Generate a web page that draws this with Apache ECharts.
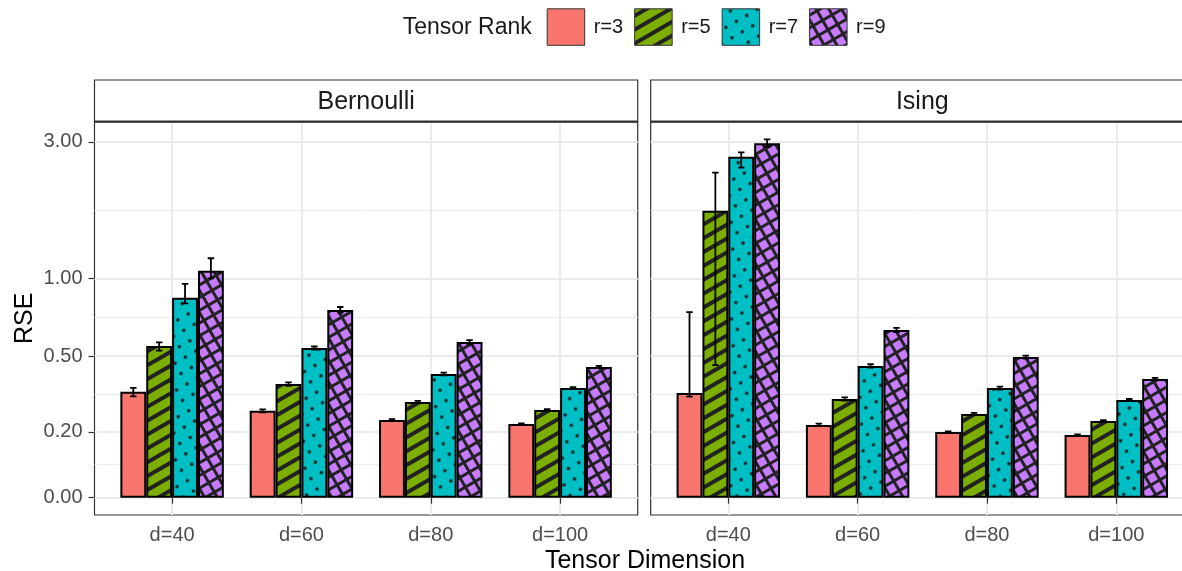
<!DOCTYPE html>
<html><head><meta charset="utf-8">
<script src="https://cdn.jsdelivr.net/npm/echarts@6/dist/echarts.min.js"></script>
<style>html,body{margin:0;padding:0;background:#fff}#chart{width:1182px;height:571px}</style>
</head><body><div id="chart"></div>
<script>
// ---------------- data ----------------
const dims = ['d=40', 'd=60', 'd=80', 'd=100'];
const ranks = ['r=3', 'r=5', 'r=7', 'r=9'];
const facets = ['Bernoulli', 'Ising'];
const yBreaks = [0, 0.2, 0.5, 1, 3];
const yBreakLabels = ['0.00', '0.20', '0.50', '1.00', '3.00'];

const bernR3 = [0.344, 0.272, 0.240, 0.226];
const bernR5 = [0.552, 0.375, 0.305, 0.275];
const bernR7 = [0.849, 0.541, 0.418, 0.359];
const bernR9 = [1.066, 0.764, 0.573, 0.449];
const bernR3Lo = [0.326, 0.267, 0.237, 0.224], bernR3Hi = [0.360, 0.277, 0.243, 0.228];
const bernR5Lo = [0.528, 0.368, 0.301, 0.272], bernR5Hi = [0.571, 0.382, 0.309, 0.278];
const bernR7Lo = [0.809, 0.533, 0.412, 0.355], bernR7Hi = [0.954, 0.549, 0.424, 0.363];
const bernR9Lo = [1.000, 0.746, 0.563, 0.444], bernR9Hi = [1.181, 0.784, 0.583, 0.454];

const isingR3 = [0.339, 0.223, 0.199, 0.189];
const isingR5 = [1.736, 0.316, 0.261, 0.236];
const isingR7 = [2.668, 0.454, 0.359, 0.312];
const isingR9 = [2.966, 0.640, 0.496, 0.396];
const isingR3Lo = [0.325, 0.219, 0.197, 0.187], isingR3Hi = [0.750, 0.227, 0.201, 0.191];
const isingR5Lo = [0.458, 0.310, 0.257, 0.233], isingR5Hi = [2.350, 0.322, 0.265, 0.239];
const isingR7Lo = [2.445, 0.446, 0.353, 0.308], isingR7Hi = [2.762, 0.462, 0.365, 0.316];
const isingR9Lo = [2.887, 0.628, 0.489, 0.391], isingR9Hi = [3.061, 0.652, 0.503, 0.401];

// ---------------- scale (pseudo-log transform) ----------------
const S = 2.7;
const tr = v => Math.asinh(S * v);
const Y_MIN = -0.1356, Y_MAX = 2.9467;
const majorT = yBreaks.map(tr);
const minorT = [];
for (let i = 0; i < majorT.length - 1; i++) minorT.push((majorT[i] + majorT[i + 1]) / 2);
function yLabel(v) {
  let best = 0, bd = Infinity;
  majorT.forEach((t, i) => { const d = Math.abs(t - v); if (d < bd) { bd = d; best = i; } });
  return yBreakLabels[best];
}

const FONT = 'Liberation Sans, Arial, Helvetica, sans-serif';

// ---------------- patterns ----------------
function makeTile(n, draw) {
  const c = document.createElement('canvas'); c.width = n; c.height = n;
  const g = c.getContext('2d'); draw(g, n); return c;
}
const ROT = -Math.PI / 6;
const INK = '#222222';
const fills = [
  '#F8766D',
  { image: makeTile(12, (g, n) => { g.fillStyle = '#7CAE00'; g.fillRect(0, 0, n, n); g.fillStyle = INK; g.fillRect(0, 4, n, 4); }), repeat: 'repeat', rotation: ROT },
  { image: makeTile(12, (g, n) => { g.fillStyle = '#00BFC4'; g.fillRect(0, 0, n, n); g.fillStyle = INK; g.beginPath(); g.arc(6, 6, 1.8, 0, Math.PI * 2); g.fill(); }), repeat: 'repeat', rotation: ROT },
  { image: makeTile(11, (g, n) => { g.fillStyle = '#C77CFF'; g.fillRect(0, 0, n, n); g.fillStyle = INK; g.fillRect(0, 4, n, 3); g.fillRect(4, 0, 3, n); }), repeat: 'repeat', rotation: ROT }
];

const means = [[bernR3, bernR5, bernR7, bernR9], [isingR3, isingR5, isingR7, isingR9]];
const lows = [[bernR3Lo, bernR5Lo, bernR7Lo, bernR9Lo], [isingR3Lo, isingR5Lo, isingR7Lo, isingR9Lo]];
const highs = [[bernR3Hi, bernR5Hi, bernR7Hi, bernR9Hi], [isingR3Hi, isingR5Hi, isingR7Hi, isingR9Hi]];

// ---------------- layout ----------------
const PANEL_W = 543.2, PANEL_TOP = 121.7, PANEL_H = 393.3;
const PANEL_LEFT = [94.5, 650.7];
const STRIP_TOP = 80;

const grids = [], xAxes = [], yAxes = [], series = [], graphics = [];
facets.forEach((f, fi) => {
  grids.push({ left: PANEL_LEFT[fi], top: PANEL_TOP, width: PANEL_W, height: PANEL_H, show: true,
    borderColor: '#333', borderWidth: 1.2, backgroundColor: 'transparent', containLabel: false, outerBoundsMode: 'none' });
  xAxes.push({ type: 'value', gridIndex: fi, min: 0.4, max: 4.6,
    axisLine: { show: false },
    axisTick: { show: true, customValues: [1, 2, 3, 4], length: 6, lineStyle: { color: '#333', width: 1.2 } },
    axisLabel: { show: true, customValues: [1, 2, 3, 4], formatter: v => dims[Math.round(v) - 1], fontSize: 20, color: '#4d4d4d', margin: 10, fontFamily: FONT },
    splitLine: { show: true, lineStyle: { color: '#ebebeb', width: 2 } } });
});
// major y axes
facets.forEach((f, fi) => {
  yAxes.push({ type: 'value', gridIndex: fi, min: Y_MIN, max: Y_MAX, position: 'left',
    axisLine: { show: false },
    axisTick: { show: fi === 0, customValues: majorT, length: 6, lineStyle: { color: '#333', width: 1.2 } },
    axisLabel: { show: fi === 0, customValues: majorT, formatter: yLabel, fontSize: 20, color: '#4d4d4d', margin: 12, fontFamily: FONT },
    splitLine: { show: true, lineStyle: { color: '#ebebeb', width: 2 } },
    name: fi === 0 ? 'RSE' : '', nameLocation: 'middle', nameGap: 57,
    nameTextStyle: { fontSize: 25, color: '#000', fontFamily: FONT } });
});
// minor y axes (grid lines only)
facets.forEach((f, fi) => {
  yAxes.push({ type: 'value', gridIndex: fi, min: Y_MIN, max: Y_MAX, position: 'left',
    axisLine: { show: false },
    axisTick: { show: false, customValues: minorT },
    axisLabel: { show: false, customValues: minorT },
    splitLine: { show: true, lineStyle: { color: '#ebebeb', width: 1 } } });
});

facets.forEach((f, fi) => {
  ranks.forEach((r, ri) => {
    series.push({ type: 'bar', name: r, xAxisIndex: fi, yAxisIndex: fi,
      barGap: '0%', barCategoryGap: '20%', z: 2,
      data: means[fi][ri].map((v, i) => [i + 1, tr(v)]),
      itemStyle: { color: fills[ri], borderColor: '#000', borderWidth: 2 },
      emphasis: { disabled: true } });
  });
  const rows = [];
  ranks.forEach((r, ri) => dims.forEach((d, di) => rows.push([di + 1, ri, tr(lows[fi][ri][di]), tr(highs[fi][ri][di])])));
  series.push({ type: 'custom', name: 'err' + fi, xAxisIndex: fi, yAxisIndex: fi, z: 5, clip: true,
    encode: { x: 0, y: [2, 3] },
    data: rows,
    renderItem: (params, api) => {
      const x = api.value(0) + (api.value(1) - 1.5) * 0.2;
      const lo = api.value(2), hi = api.value(3), hw = 0.025;
      const a = api.coord([x, hi]), b = api.coord([x, lo]);
      const a1 = api.coord([x - hw, hi]), a2 = api.coord([x + hw, hi]);
      const b1 = api.coord([x - hw, lo]), b2 = api.coord([x + hw, lo]);
      const st = { stroke: '#000', lineWidth: 1.8, fill: null };
      return { type: 'group', children: [
        { type: 'line', shape: { x1: a[0], y1: a[1], x2: b[0], y2: b[1] }, style: st },
        { type: 'line', shape: { x1: a1[0], y1: a1[1], x2: a2[0], y2: a2[1] }, style: st },
        { type: 'line', shape: { x1: b1[0], y1: b1[1], x2: b2[0], y2: b2[1] }, style: st }
      ] };
    } });
  // strip
  graphics.push({ type: 'rect', shape: { x: PANEL_LEFT[fi], y: STRIP_TOP, width: PANEL_W, height: PANEL_TOP - STRIP_TOP },
    style: { fill: '#fff', stroke: '#333', lineWidth: 1.2 }, z: 1 });
  graphics.push({ type: 'line', shape: { x1: PANEL_LEFT[fi], y1: PANEL_TOP, x2: PANEL_LEFT[fi] + PANEL_W, y2: PANEL_TOP },
    style: { stroke: '#333', lineWidth: 2.2 }, z: 2 });
  graphics.push({ type: 'text', x: PANEL_LEFT[fi] + PANEL_W / 2, y: (STRIP_TOP + PANEL_TOP) / 2 + 1, z: 3,
    style: { text: f, fontSize: 25, fontFamily: FONT, fill: '#1a1a1a', align: 'center', verticalAlign: 'middle' } });
});

graphics.push({ type: 'text', x: 645, y: 561.5, style: { text: 'Tensor Dimension', fontSize: 25, fontFamily: FONT, fill: '#000', align: 'center', verticalAlign: 'middle' } });
graphics.push({ type: 'text', x: 402.7, y: 27.5, style: { text: 'Tensor Rank', fontSize: 23, fontFamily: FONT, fill: '#1a1a1a', align: 'left', verticalAlign: 'middle' } });

const chart = echarts.init(document.getElementById('chart'), null, { renderer: 'canvas' });
chart.setOption({
  animation: false,
  backgroundColor: '#fff',
  textStyle: { fontFamily: FONT },
  legend: { data: ranks, left: 546.7, top: 8.3, padding: 0, orient: 'horizontal', icon: 'rect',
    itemWidth: 37.5, itemHeight: 36.5, itemGap: 11, selectedMode: false,
    itemStyle: { borderColor: '#333', borderWidth: 1 },
    textStyle: { fontSize: 20, color: '#1a1a1a', fontFamily: FONT, padding: [0, 0, 0, 4] } },
  grid: grids,
  xAxis: xAxes,
  yAxis: yAxes,
  series: series,
  graphic: graphics
});
</script></body></html>
